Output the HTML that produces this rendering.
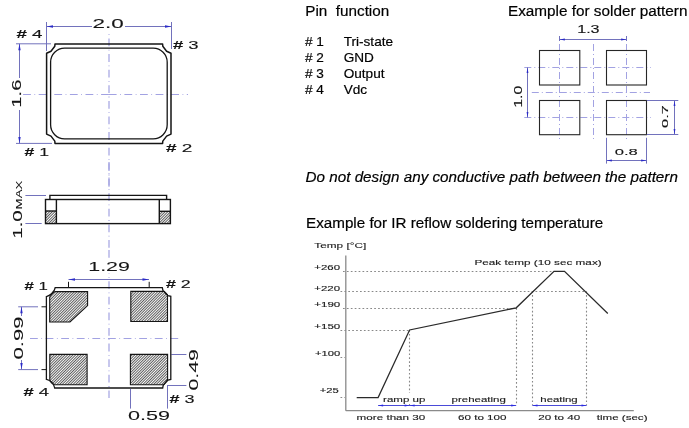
<!DOCTYPE html>
<html><head><meta charset="utf-8">
<style>
html,body{margin:0;padding:0;background:#fff;}
body{width:689px;height:428px;overflow:hidden;position:relative;}
svg{position:absolute;left:0;top:0;will-change:transform;}
text{font-family:"Liberation Sans",sans-serif;}
</style></head><body>
<svg width="689" height="428" viewBox="0 0 689 428">
<defs>
<pattern id="hatch" patternUnits="userSpaceOnUse" width="1.9" height="1.9" patternTransform="rotate(45)">
<rect width="1.9" height="1.9" fill="#fafafa"/>
<rect x="0" y="0" width="0.75" height="1.9" fill="#333"/>
</pattern>
</defs>
<line x1="23.1" y1="94.5" x2="109.5" y2="94.5" stroke="#a2a2e2" stroke-width="1" stroke-dasharray="7.8,3.5,0.8,3.5" />
<line x1="108.8" y1="94.5" x2="188" y2="94.5" stroke="#a2a2e2" stroke-width="1" stroke-dasharray="7.8,3.5,0.8,3.5" />
<line x1="109" y1="33" x2="109" y2="190" stroke="#a2a2e2" stroke-width="1.2" stroke-dasharray="7.8,3.5,0.8,3.5" stroke-dashoffset="10.1"/>
<line x1="46.5" y1="22" x2="46.5" y2="51" stroke="#7272bc" stroke-width="1" />
<line x1="171.5" y1="22" x2="171.5" y2="49" stroke="#7272bc" stroke-width="1" />
<line x1="46.5" y1="26.5" x2="92" y2="26.5" stroke="#7272bc" stroke-width="1" />
<line x1="125" y1="26.5" x2="171.5" y2="26.5" stroke="#7272bc" stroke-width="1" />
<polygon points="46.5,26.5 53.0,25.3 53.0,27.7" fill="#2a2ac8"/>
<polygon points="171.5,26.5 165.0,25.3 165.0,27.7" fill="#2a2ac8"/>
<line x1="16" y1="43.8" x2="51" y2="43.8" stroke="#7272bc" stroke-width="1" />
<line x1="16" y1="143.4" x2="52" y2="143.4" stroke="#7272bc" stroke-width="1" />
<line x1="19.5" y1="43.8" x2="19.5" y2="78" stroke="#7272bc" stroke-width="1" />
<line x1="19.5" y1="110" x2="19.5" y2="143.4" stroke="#7272bc" stroke-width="1" />
<polygon points="19.5,43.8 18.3,50.3 20.7,50.3" fill="#2a2ac8"/>
<polygon points="19.5,143.4 18.3,136.9 20.7,136.9" fill="#2a2ac8"/>
<path d="M55,43.9 L162.6,43.9 L162.8,46.2 L166.6,51.2 L171,53.2 L171,134.1 L166.6,136.1 L162.8,141.1 L162.6,143.4 L55,143.4 L54.8,141.1 L51,136.1 L46.6,134.1 L46.6,53.2 L51,51.2 L54.8,46.2 Z" fill="none" stroke="#151515" stroke-width="1.5" stroke-linejoin="round"/>
<rect x="50.6" y="48.2" width="116.6" height="90.6" rx="14" ry="14" fill="none" stroke="#151515" stroke-width="1.3"/>
<text x="92.6" y="28" font-size="13.4" textLength="31.2" lengthAdjust="spacingAndGlyphs" fill="#151515" stroke="#151515" stroke-width="0.12" >2.0</text>
<text transform="translate(21.3,107.7) rotate(-90)" font-size="13.4" textLength="28.1" lengthAdjust="spacingAndGlyphs" fill="#151515" stroke="#151515" stroke-width="0.12" >1.6</text>
<text x="16.4" y="37.9" font-size="11" textLength="26" lengthAdjust="spacingAndGlyphs" fill="#151515" stroke="#151515" stroke-width="0.12" ><tspan font-weight="bold">#</tspan> 4</text>
<text x="172.9" y="48.8" font-size="11" textLength="25.7" lengthAdjust="spacingAndGlyphs" fill="#151515" stroke="#151515" stroke-width="0.12" ><tspan font-weight="bold">#</tspan> 3</text>
<text x="24.5" y="155.9" font-size="11" textLength="24.5" lengthAdjust="spacingAndGlyphs" fill="#151515" stroke="#151515" stroke-width="0.12" ><tspan font-weight="bold">#</tspan> 1</text>
<text x="165.9" y="151.9" font-size="11" textLength="26.4" lengthAdjust="spacingAndGlyphs" fill="#151515" stroke="#151515" stroke-width="0.12" ><tspan font-weight="bold">#</tspan> 2</text>
<line x1="109" y1="162" x2="109" y2="250" stroke="#a2a2e2" stroke-width="1.2" stroke-dasharray="7.8,3.5,0.8,3.5" />
<line x1="25.4" y1="195.5" x2="46" y2="195.5" stroke="#7272bc" stroke-width="1" />
<line x1="25.4" y1="223.5" x2="41.7" y2="223.5" stroke="#7272bc" stroke-width="1" />
<rect x="45.5" y="211" width="10.9" height="12.6" fill="url(#hatch)"/>
<rect x="159.3" y="211.3" width="11.1" height="12.3" fill="url(#hatch)"/>
<g fill="none" stroke="#151515" stroke-width="1.4"><path d="M49.9,199.5 L49.9,195.4 L166.6,195.4 L166.6,199.5"/><rect x="45.5" y="199.5" width="124.9" height="24.1"/><line x1="56.4" y1="199.5" x2="56.4" y2="223.6"/><line x1="45.5" y1="211" x2="56.4" y2="211"/><line x1="159.3" y1="199.5" x2="159.3" y2="223.6"/><line x1="159.3" y1="211.3" x2="170.4" y2="211.3"/></g>
<text transform="translate(22.1,238.8) rotate(-90)" font-size="12" textLength="28.6" lengthAdjust="spacingAndGlyphs" fill="#151515" stroke="#151515" stroke-width="0.08" >1.0</text>
<text transform="translate(22.1,209.4) rotate(-90)" font-size="9.2" textLength="28.7" lengthAdjust="spacingAndGlyphs" fill="#151515" stroke="#151515" stroke-width="0.05" >MAX</text>
<line x1="30" y1="338.5" x2="181" y2="338.5" stroke="#a2a2e2" stroke-width="1" stroke-dasharray="7.8,3.5,0.8,3.5" />
<line x1="109" y1="250" x2="109" y2="398" stroke="#a2a2e2" stroke-width="1.2" stroke-dasharray="7.8,3.5,0.8,3.5" />
<rect x="86" y="260" width="46" height="13" fill="#fff"/>
<line x1="68.5" y1="279.5" x2="149" y2="279.5" stroke="#7272bc" stroke-width="1" />
<polygon points="68.5,279.5 75.0,278.3 75.0,280.7" fill="#2a2ac8"/>
<polygon points="149,279.5 142.5,278.3 142.5,280.7" fill="#2a2ac8"/>
<line x1="68.5" y1="281.8" x2="68.5" y2="287.5" stroke="#151515" stroke-width="1" />
<line x1="149.2" y1="281.8" x2="149.2" y2="287.5" stroke="#151515" stroke-width="1" />
<line x1="18.2" y1="306.8" x2="38" y2="306.8" stroke="#7272bc" stroke-width="1" />
<line x1="41.5" y1="306.8" x2="46" y2="306.8" stroke="#151515" stroke-width="1" />
<line x1="18.2" y1="369.6" x2="38" y2="369.6" stroke="#7272bc" stroke-width="1" />
<line x1="41.5" y1="369.6" x2="46" y2="369.6" stroke="#151515" stroke-width="1" />
<line x1="21.5" y1="306.8" x2="21.5" y2="316" stroke="#7272bc" stroke-width="1" />
<line x1="21.5" y1="360" x2="21.5" y2="369.6" stroke="#7272bc" stroke-width="1" />
<polygon points="21.5,306.8 20.3,313.3 22.7,313.3" fill="#2a2ac8"/>
<polygon points="21.5,369.6 20.3,363.1 22.7,363.1" fill="#2a2ac8"/>
<line x1="171.3" y1="354.5" x2="186.4" y2="354.5" stroke="#7272bc" stroke-width="1" />
<line x1="167" y1="385.5" x2="186.4" y2="385.5" stroke="#7272bc" stroke-width="1" />
<line x1="130.5" y1="389" x2="130.5" y2="408.6" stroke="#7272bc" stroke-width="1" />
<line x1="167.5" y1="385.5" x2="167.5" y2="408.6" stroke="#7272bc" stroke-width="1" />
<g stroke="#151515" stroke-width="1.1" fill="url(#hatch)"><path d="M55,291.6 L87.6,291.6 L87.6,305.6 L70,322 L49.7,322 L49.7,297 Q52,293 55,291.6 Z"/><path d="M130.8,291.4 L164.2,291.4 L167.5,294.8 L167.5,321.5 L130.8,321.5 Z"/><path d="M49.8,354.4 L87.1,354.4 L87.1,384.8 L54,384.8 Q50.5,383 49.8,380 Z"/><path d="M130.4,354.4 L167.6,354.4 L167.6,379.6 L163.7,384.8 L130.4,384.8 Z"/></g>
<path d="M55.2,287.6 L162.3,287.6 L163,290.6 L168,295.6 L170.8,296.3 L170.8,379.4 L168,380 L163.2,385.3 L162.7,388 L54.7,388 Q54.2,384.5 51.5,382 Q48.8,379.8 46.4,379.4 L46.4,296.6 Q49.5,295.8 51.5,293.8 Q54.8,290.8 55.2,287.6 Z" fill="none" stroke="#151515" stroke-width="1.3"/>
<text x="88.3" y="271" font-size="12.5" textLength="41.6" lengthAdjust="spacingAndGlyphs" fill="#151515" stroke="#151515" stroke-width="0.08" >1.29</text>
<text transform="translate(23.4,359.5) rotate(-90)" font-size="13.4" textLength="43" lengthAdjust="spacingAndGlyphs" fill="#151515" stroke="#151515" stroke-width="0.08" >0.99</text>
<text transform="translate(198.1,390.6) rotate(-90)" font-size="13.4" textLength="41.6" lengthAdjust="spacingAndGlyphs" fill="#151515" stroke="#151515" stroke-width="0.08" >0.49</text>
<text x="128" y="420.3" font-size="13" textLength="42" lengthAdjust="spacingAndGlyphs" fill="#151515" stroke="#151515" stroke-width="0.08" >0.59</text>
<text x="24.5" y="290.2" font-size="10.5" textLength="23.4" lengthAdjust="spacingAndGlyphs" fill="#151515" stroke="#151515" stroke-width="0.12" ><tspan font-weight="bold">#</tspan> 1</text>
<text x="165.9" y="287.9" font-size="10.5" textLength="24.8" lengthAdjust="spacingAndGlyphs" fill="#151515" stroke="#151515" stroke-width="0.12" ><tspan font-weight="bold">#</tspan> 2</text>
<text x="23.4" y="396.2" font-size="10.5" textLength="25.6" lengthAdjust="spacingAndGlyphs" fill="#151515" stroke="#151515" stroke-width="0.12" ><tspan font-weight="bold">#</tspan> 4</text>
<text x="169.6" y="402.6" font-size="10" textLength="25" lengthAdjust="spacingAndGlyphs" fill="#151515" stroke="#151515" stroke-width="0.12" ><tspan font-weight="bold">#</tspan> 3</text>
<g fill="#000">
<text x="305.3" y="15.8" font-size="15.25" fill="#000" stroke="#000" stroke-width="0.2" xml:space="preserve">Pin  function</text>
<text x="304.9" y="45.6" font-size="13.6" fill="#000" stroke="#000" stroke-width="0.2" ># 1</text>
<text x="343.7" y="45.6" font-size="13.6" fill="#000" stroke="#000" stroke-width="0.2" >Tri-state</text>
<text x="304.9" y="61.5" font-size="13.6" fill="#000" stroke="#000" stroke-width="0.2" ># 2</text>
<text x="343.7" y="61.5" font-size="13.6" fill="#000" stroke="#000" stroke-width="0.2" >GND</text>
<text x="304.9" y="77.5" font-size="13.6" fill="#000" stroke="#000" stroke-width="0.2" ># 3</text>
<text x="343.7" y="77.5" font-size="13.6" fill="#000" stroke="#000" stroke-width="0.2" >Output</text>
<text x="304.9" y="93.5" font-size="13.6" fill="#000" stroke="#000" stroke-width="0.2" ># 4</text>
<text x="343.7" y="93.5" font-size="13.6" fill="#000" stroke="#000" stroke-width="0.2" >Vdc</text>
<text x="508" y="15.9" font-size="15.3" fill="#000" stroke="#000" stroke-width="0.2" >Example for solder pattern</text>
<text x="305.6" y="181.9" font-size="15.22" fill="#000" stroke="#000" stroke-width="0.2" font-style="italic">Do not design any conductive path between the pattern</text>
<text x="306.1" y="228" font-size="15.2" fill="#000" stroke="#000" stroke-width="0.2" >Example for IR reflow soldering temperature</text>
</g>
<line x1="524.3" y1="67.5" x2="651" y2="67.5" stroke="#a2a2e2" stroke-width="1" stroke-dasharray="7,3,1,3" />
<line x1="524.3" y1="117.5" x2="651" y2="117.5" stroke="#a2a2e2" stroke-width="1" stroke-dasharray="7,3,1,3" />
<line x1="531.8" y1="92.5" x2="650" y2="92.5" stroke="#a2a2e2" stroke-width="1" stroke-dasharray="7,3,1,3" />
<line x1="559.5" y1="44" x2="559.5" y2="140" stroke="#a2a2e2" stroke-width="1" stroke-dasharray="7,3,1,3" />
<line x1="626.5" y1="44" x2="626.5" y2="140" stroke="#a2a2e2" stroke-width="1" stroke-dasharray="7,3,1,3" />
<line x1="593.5" y1="44" x2="593.5" y2="140" stroke="#a2a2e2" stroke-width="1" stroke-dasharray="7,3,1,3" />
<g fill="none" stroke="#262626" stroke-width="1.1"><rect x="539.5" y="50.5" width="40.3" height="34.5"/><rect x="606.5" y="50.5" width="40" height="34.5"/><rect x="539.5" y="100.5" width="40.3" height="34.2"/><rect x="606.5" y="100.5" width="40" height="34.2"/></g>
<line x1="559.5" y1="39.5" x2="626.5" y2="39.5" stroke="#7272bc" stroke-width="1" />
<line x1="559.5" y1="36" x2="559.5" y2="41" stroke="#7272bc" stroke-width="1" />
<line x1="626.5" y1="36" x2="626.5" y2="41" stroke="#7272bc" stroke-width="1" />
<line x1="527.5" y1="67.5" x2="527.5" y2="117.5" stroke="#7272bc" stroke-width="1" />
<line x1="646.8" y1="100.5" x2="678.3" y2="100.5" stroke="#7272bc" stroke-width="1" />
<line x1="646.8" y1="134.5" x2="678.3" y2="134.5" stroke="#7272bc" stroke-width="1" />
<line x1="674.5" y1="100.5" x2="674.5" y2="134.5" stroke="#7272bc" stroke-width="1" />
<line x1="606.5" y1="137.8" x2="606.5" y2="163.6" stroke="#7272bc" stroke-width="1" />
<line x1="646.5" y1="137.8" x2="646.5" y2="163.6" stroke="#7272bc" stroke-width="1" />
<line x1="606.5" y1="160.5" x2="646.5" y2="160.5" stroke="#7272bc" stroke-width="1" />
<polygon points="559.5,39.5 564.9,38.6 564.9,40.4" fill="#2a2ac8"/>
<polygon points="626.5,39.5 621.1,38.6 621.1,40.4" fill="#2a2ac8"/>
<polygon points="527.5,67.5 526.6,72.9 528.4,72.9" fill="#2a2ac8"/>
<polygon points="527.5,117.5 526.6,112.1 528.4,112.1" fill="#2a2ac8"/>
<polygon points="674.5,100.5 673.6,105.9 675.4,105.9" fill="#2a2ac8"/>
<polygon points="674.5,134.5 673.6,129.1 675.4,129.1" fill="#2a2ac8"/>
<polygon points="606.5,160.5 611.9,159.6 611.9,161.4" fill="#2a2ac8"/>
<polygon points="646.5,160.5 641.1,159.6 641.1,161.4" fill="#2a2ac8"/>
<text x="577.2" y="32.9" font-size="10" textLength="22.4" lengthAdjust="spacingAndGlyphs" fill="#151515" stroke="#151515" stroke-width="0.12" >1.3</text>
<text transform="translate(521.5,107.8) rotate(-90)" font-size="10" textLength="22.2" lengthAdjust="spacingAndGlyphs" fill="#151515" stroke="#151515" stroke-width="0.12" >1.0</text>
<text transform="translate(668.2,127.9) rotate(-90)" font-size="9.5" textLength="22.7" lengthAdjust="spacingAndGlyphs" fill="#151515" stroke="#151515" stroke-width="0.12" >0.7</text>
<text x="614.7" y="154.6" font-size="9.5" textLength="23.1" lengthAdjust="spacingAndGlyphs" fill="#151515" stroke="#151515" stroke-width="0.12" >0.8</text>
<line x1="343" y1="271.5" x2="554" y2="271.5" stroke="#888" stroke-width="1.1" stroke-dasharray="1.7,2.2" />
<line x1="340.5" y1="291.5" x2="586" y2="291.5" stroke="#888" stroke-width="1.1" stroke-dasharray="1.7,2.2" />
<line x1="343" y1="308.5" x2="516.2" y2="308.5" stroke="#888" stroke-width="1.1" stroke-dasharray="1.7,2.2" />
<line x1="340.5" y1="330.5" x2="409.6" y2="330.5" stroke="#888" stroke-width="1.1" stroke-dasharray="1.7,2.2" />
<line x1="340.5" y1="357.5" x2="345" y2="357.5" stroke="#888" stroke-width="1.1" stroke-dasharray="1.7,2.2" />
<line x1="340.5" y1="397.5" x2="345" y2="397.5" stroke="#888" stroke-width="1.1" stroke-dasharray="1.7,2.2" />
<line x1="409.5" y1="330" x2="409.5" y2="405.5" stroke="#888" stroke-width="1.1" stroke-dasharray="1.7,2.2" />
<line x1="516.5" y1="308" x2="516.5" y2="405.5" stroke="#888" stroke-width="1.1" stroke-dasharray="1.7,2.2" />
<line x1="532.5" y1="291.2" x2="532.5" y2="405.5" stroke="#888" stroke-width="1.1" stroke-dasharray="1.7,2.2" />
<line x1="586.5" y1="291.2" x2="586.5" y2="405.5" stroke="#888" stroke-width="1.1" stroke-dasharray="1.7,2.2" />
<line x1="345.8" y1="255.5" x2="345.8" y2="410.8" stroke="#8a8a8a" stroke-width="1.3" />
<line x1="345.8" y1="410.6" x2="633.8" y2="410.6" stroke="#8a8a8a" stroke-width="1.3" />
<polyline points="356.7,397.5 378.1,397.5 409.6,330 516.2,307.8 554,271.3 564.5,271.3 607.8,313.5" fill="none" stroke="#2a2a2a" stroke-width="1.25"/>
<rect x="382" y="393" width="44" height="10" fill="#fff"/>
<rect x="450" y="393" width="57" height="10" fill="#fff"/>
<rect x="539" y="393" width="40" height="10" fill="#fff"/>
<line x1="378.1" y1="405.5" x2="516.2" y2="405.5" stroke="#4a4ad8" stroke-width="1" />
<line x1="532.5" y1="405.5" x2="586.5" y2="405.5" stroke="#4a4ad8" stroke-width="1" />
<polygon points="378.1,405.5 383.1,404.5 383.1,406.5" fill="#2a2ae0"/>
<polygon points="409.6,405.5 404.6,404.5 404.6,406.5" fill="#2a2ae0"/>
<polygon points="409.6,405.5 414.6,404.5 414.6,406.5" fill="#2a2ae0"/>
<polygon points="516.2,405.5 511.20000000000005,404.5 511.20000000000005,406.5" fill="#2a2ae0"/>
<polygon points="532.5,405.5 537.5,404.5 537.5,406.5" fill="#2a2ae0"/>
<polygon points="586.5,405.5 581.5,404.5 581.5,406.5" fill="#2a2ae0"/>
<text x="314.3" y="248.1" font-size="7.7" textLength="51.9" lengthAdjust="spacingAndGlyphs" fill="#1a1a1a" stroke="#1a1a1a" stroke-width="0.12" >Temp [°C]</text>
<text x="314.3" y="270" font-size="6.8" textLength="25.7" lengthAdjust="spacingAndGlyphs" fill="#1a1a1a" stroke="#1a1a1a" stroke-width="0.12" >+260</text>
<text x="314.3" y="290.8" font-size="6.8" textLength="25.7" lengthAdjust="spacingAndGlyphs" fill="#1a1a1a" stroke="#1a1a1a" stroke-width="0.12" >+220</text>
<text x="314.3" y="307.2" font-size="6.8" textLength="26" lengthAdjust="spacingAndGlyphs" fill="#1a1a1a" stroke="#1a1a1a" stroke-width="0.12" >+190</text>
<text x="314.3" y="328.5" font-size="6.8" textLength="26" lengthAdjust="spacingAndGlyphs" fill="#1a1a1a" stroke="#1a1a1a" stroke-width="0.12" >+150</text>
<text x="314.9" y="355.7" font-size="6.8" textLength="25.3" lengthAdjust="spacingAndGlyphs" fill="#1a1a1a" stroke="#1a1a1a" stroke-width="0.12" >+100</text>
<text x="319.8" y="393.3" font-size="6.8" textLength="19" lengthAdjust="spacingAndGlyphs" fill="#1a1a1a" stroke="#1a1a1a" stroke-width="0.12" >+25</text>
<text x="474.4" y="264.5" font-size="7.2" textLength="127.3" lengthAdjust="spacingAndGlyphs" fill="#1a1a1a" stroke="#1a1a1a" stroke-width="0.12" >Peak temp (10 sec max)</text>
<text x="383.1" y="401.9" font-size="7.6" textLength="42.2" lengthAdjust="spacingAndGlyphs" fill="#1a1a1a" stroke="#1a1a1a" stroke-width="0.12" >ramp up</text>
<text x="451.6" y="401.8" font-size="7.6" textLength="54.2" lengthAdjust="spacingAndGlyphs" fill="#1a1a1a" stroke="#1a1a1a" stroke-width="0.12" >preheating</text>
<text x="540.3" y="401.6" font-size="7.6" textLength="37.4" lengthAdjust="spacingAndGlyphs" fill="#1a1a1a" stroke="#1a1a1a" stroke-width="0.12" >heating</text>
<text x="356.6" y="419.8" font-size="7.6" textLength="68.7" lengthAdjust="spacingAndGlyphs" fill="#1a1a1a" stroke="#1a1a1a" stroke-width="0.12" >more than 30</text>
<text x="458" y="419.8" font-size="7.6" textLength="48.5" lengthAdjust="spacingAndGlyphs" fill="#1a1a1a" stroke="#1a1a1a" stroke-width="0.12" >60 to 100</text>
<text x="538.2" y="420.2" font-size="7.6" textLength="42" lengthAdjust="spacingAndGlyphs" fill="#1a1a1a" stroke="#1a1a1a" stroke-width="0.12" >20 to 40</text>
<text x="596.8" y="420.2" font-size="7.6" textLength="50.7" lengthAdjust="spacingAndGlyphs" fill="#1a1a1a" stroke="#1a1a1a" stroke-width="0.12" >time (sec)</text>
</svg>
</body></html>
